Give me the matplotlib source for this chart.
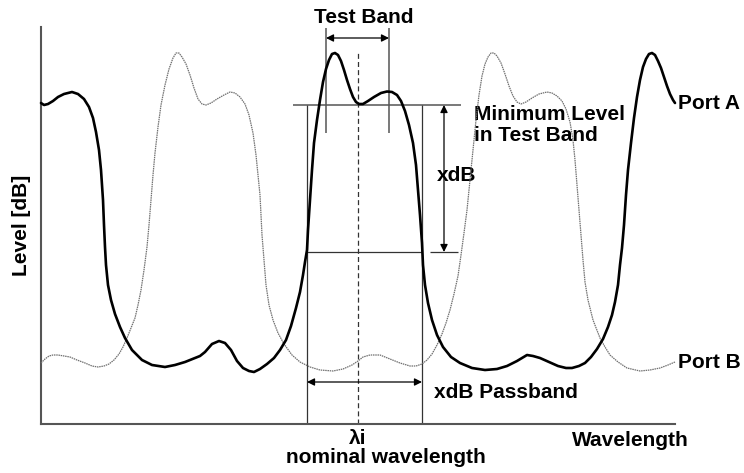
import numpy as np
import matplotlib.pyplot as plt

# Port A transmission (thick line)
port_a_wl = [0, 3, 7, 12, 17, 23, 31, 37, 43, 48, 52, 55, 58, 60, 62, 63, 64, 65, 67, 70,
             74, 79, 84, 91, 101, 111, 124, 134, 144, 154, 159, 164, 171, 178, 184, 190,
             196, 202, 208, 213, 219, 226, 233, 239, 245, 250, 255, 259, 262, 264, 266,
             267, 269, 271, 273, 276, 279, 282, 285, 288, 291, 294, 297, 300, 303, 306,
             309, 312, 315, 318, 322, 327, 333, 340, 346, 351, 356, 360, 364, 368, 372,
             375, 377, 379, 381, 382, 384, 387, 391, 396, 402, 410, 419, 431, 444, 456,
             466, 476, 481, 486, 492, 499, 508, 517, 525, 531, 538, 544, 550, 556, 562,
             567, 571, 574, 577, 579, 581, 583, 585, 587, 590, 593, 596, 599, 602, 605,
             608, 611, 614, 617, 620, 623, 626, 629, 632, 634]
port_a_lvl = [321, 319, 320, 323, 327, 330, 332, 330, 325, 317, 306, 292, 274, 254, 224, 199,
              177, 159, 139, 124, 110, 97, 86, 74, 64, 59, 57, 59, 62, 66, 68, 72, 80, 83,
              81, 74, 63, 56, 53, 52, 55, 60, 66, 74, 84, 98, 116, 132, 149, 162, 174,
              194, 224, 254, 281, 304, 324, 342, 355, 364, 370, 371, 369, 363, 354, 344,
              335, 327, 322, 320, 320, 323, 327, 331, 332.5, 332, 329, 323, 313, 299, 281,
              259, 234, 209, 181, 159, 139, 121, 104, 89, 77, 67, 61, 56, 54, 55,
              58, 63, 66, 69, 68, 66, 62, 58, 56, 56, 58, 61, 67, 75, 85,
              97, 109, 122, 139, 159, 176, 199, 229, 254, 281, 306, 327, 344, 357, 365,
              370, 371, 369, 363, 356, 347, 338, 330, 324, 321]

# Port B transmission (thin line)
port_b_wl = [0, 4, 8, 12, 17, 23, 29, 36, 44, 51, 57, 63, 68, 73, 78, 82, 86, 90, 94, 97,
             100, 103, 106, 108, 110, 112, 114, 117, 120, 124, 128, 132, 135, 138, 141,
             145, 149, 153, 157, 161, 165, 170, 176, 183, 189, 194, 199, 204, 208, 212,
             215, 217, 219, 220, 221, 223, 225, 228, 232, 237, 243, 251, 259, 269, 279,
             292, 302, 311, 317, 322, 329, 339, 349, 359, 369, 375, 381, 386, 391, 396,
             401, 405, 409, 413, 417, 420, 423, 426, 429, 432, 435, 438, 441, 444, 447,
             450, 453, 456, 460, 464, 468, 472, 476, 480, 485, 491, 498, 506, 511, 516,
             521, 525, 529, 532, 534, 536, 538, 540, 542, 544, 547, 552, 559, 564, 569,
             577, 586, 599, 609, 619, 627, 634]
port_b_lvl = [61, 65, 68, 69, 69, 68, 67, 64, 61, 58, 57, 58, 60, 64, 70, 77, 86, 96, 106, 119,
              134, 154, 177, 199, 224, 249, 271, 297, 319, 339, 355, 366, 371, 371, 367,
              360, 349, 336, 325, 320, 319, 321, 325, 329, 332, 331, 327, 320, 309, 291,
              269, 249, 229, 209, 189, 164, 139, 119, 104, 91, 80, 69, 62, 57, 54,
              53, 55, 59, 63, 67, 69, 69, 65, 61, 58, 58, 60, 64, 70, 79,
              90, 101, 114, 130, 148, 169, 191, 214, 244, 274, 304, 329, 348, 360, 367,
              371, 371, 368, 361, 350, 338, 328, 322, 320, 322, 326, 330, 332, 331, 328,
              323, 315, 302, 284, 264, 239, 214, 189, 164, 142, 124, 104, 86, 77, 69,
              62, 56, 53, 54, 56, 59, 62]

# marker values of the measurement
test_band = (285, 348)
passband = (266, 381)
nominal_wl = 317
min_level = 319
xdb_level = 172

plt.rcParams['font.family'] = ['Liberation Sans', 'DejaVu Sans']
plt.rcParams['font.weight'] = 'bold'
fs = 15

fig = plt.figure(figsize=(7.44, 4.73), dpi=100)
ax = fig.add_axes([41 / 744, 49 / 473, 634 / 744, 397 / 473])
ax.set_xlim(0, 634)
ax.set_ylim(0, 397)
ax.set_xticks([])
ax.set_yticks([])
for s in ['top', 'right']:
    ax.spines[s].set_visible(False)
for s in ['left', 'bottom']:
    ax.spines[s].set_color('#555555')
    ax.spines[s].set_linewidth(1.5)

# curves
ax.plot(port_b_wl, port_b_lvl, color='#707070', lw=0.9, ls=(0, (1.2, 0.6)), zorder=3,
        clip_on=False)
ax.plot(port_a_wl, port_a_lvl, color='black', lw=1.9, zorder=4, clip_on=False,
        solid_capstyle='round', solid_joinstyle='round')

# guide lines
lc = '#333333'
ax.hlines(min_level, passband[0] - 14, 420, color='#555555', lw=1.1, zorder=1)
ax.vlines(passband, 0, min_level, color=lc, lw=0.9, zorder=1)
ax.hlines(xdb_level, passband[0], passband[1], color=lc, lw=0.9, zorder=1)
ax.hlines(xdb_level, 389, 417, color=lc, lw=0.9, zorder=1)
ax.vlines(nominal_wl, 0, 371, color=lc, lw=0.9, ls=(0, (4, 2.5)), zorder=1)
ax.vlines(test_band, 291, 396, color='#555555', lw=1.1, zorder=1, clip_on=False)

arrow = dict(arrowstyle='<|-|>', color='black', lw=0.9, mutation_scale=11,
             shrinkA=0, shrinkB=0)
ax.annotate('', xy=(test_band[0], 386), xytext=(test_band[1], 386),
            arrowprops=arrow, annotation_clip=False)
ax.annotate('', xy=(403, min_level), xytext=(403, xdb_level), arrowprops=arrow)
ax.annotate('', xy=(passband[0], 42), xytext=(passband[1], 42), arrowprops=arrow)

# labels
ax.text(323, 407, 'Test Band', ha='center', va='center', fontsize=fs, clip_on=False)
ax.text(433, 299, 'Minimum Level\nin Test Band', ha='left', va='center', fontsize=fs,
        linespacing=1.15, zorder=2)
ax.text(396, 249, 'xdB', ha='left', va='center', fontsize=fs, zorder=2,
        bbox=dict(facecolor='white', edgecolor='none', pad=1))
ax.text(393, 32, 'xdB Passband', ha='left', va='center', fontsize=fs)
ax.text(637, 321, 'Port A', ha='left', va='center', fontsize=fs, clip_on=False)
ax.text(637, 62, 'Port B', ha='left', va='center', fontsize=fs, clip_on=False)
ax.text(nominal_wl, -14, 'λi', ha='center', va='center', fontsize=fs, clip_on=False)
ax.text(345, -33, 'nominal wavelength', ha='center', va='center', fontsize=fs,
        clip_on=False)
ax.text(589, -16, 'Wavelength', ha='center', va='center', fontsize=fs, clip_on=False)
ax.text(-19, 199, 'Level [dB]', ha='center', va='center', rotation=90, fontsize=fs,
        clip_on=False)

fig.savefig('out.png', dpi=100)
